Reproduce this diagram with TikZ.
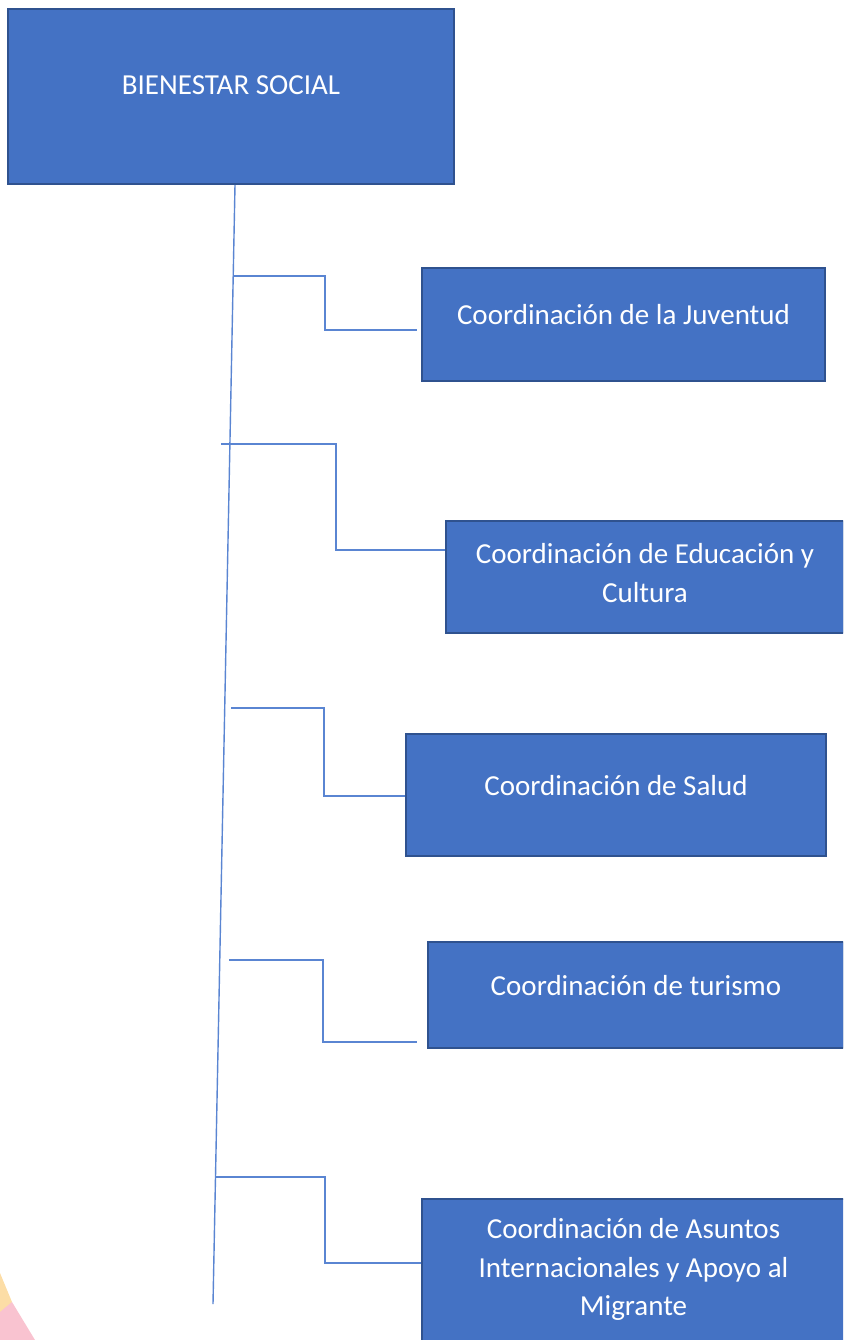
\documentclass[tikz,border=0pt]{standalone}
\usepackage{fontspec}
\setmainfont{Carlito}
\usetikzlibrary{calc}
\definecolor{boxblue}{HTML}{4472C4}
\definecolor{boxedge}{HTML}{2F528F}
\definecolor{lineblue}{HTML}{5A85D2}
\definecolor{pastelsun}{HTML}{FCDDA6}
\definecolor{pastelrose}{HTML}{F9C3D0}
\tikzset{
	orgnode/.style = {
		rectangle,
		align=center,
		inner sep=0pt,
		text=white,
		font=\fontsize{29}{38.5}\selectfont,
		fill=boxblue,
		draw=boxedge,
		line width=2pt
	},
	orgnode_top/.style = {
		orgnode,
		minimum width=446pt,
		minimum height=175pt,
		text depth=22pt
	},
	orgnode_sub/.style = {
		orgnode,
		text depth=20pt
	},
	link/.style = {
		draw=lineblue,
		line width=1.4pt
	}
}
\begin{document}
\begin{tikzpicture}[x=1pt,y=-1pt]
\useasboundingbox (0,0) rectangle (843,1340);
\clip (0,0) rectangle (843,1340);
\fill[pastelsun] (0,1273) -- (12,1302) -- (0,1325) -- cycle;
\fill[pastelrose] (0,1312) -- (12,1302) -- (35,1340) -- (0,1340) -- cycle;
\node [orgnode_top] (bs) at (231,96.5) {BIENESTAR SOCIAL};
\node [orgnode_sub, minimum width=403pt, minimum height=113pt] (juv) at (623.5,324.5) {Coordinación de la Juventud};
\node [orgnode_sub, minimum width=398pt, minimum height=112pt, text depth=8pt] (edu) at (645,577) {Coordinación de Educación y\\Cultura};
\node [orgnode_sub, minimum width=420pt, minimum height=122pt] (sal) at (616,795) {Coordinación de Salud};
\node [orgnode_sub, minimum width=416pt, minimum height=106pt] (tur) at (636,995) {Coordinación de turismo};
\node [orgnode_sub, minimum width=423pt, minimum height=156pt] (mig) at (633.5,1277) {Coordinación de Asuntos\\Internacionales y Apoyo al\\Migrante};
\coordinate (ttop) at ($(bs.south)+(4,0)$);
\coordinate (tbot) at (213,1304);
\draw[link] (ttop) -- (tbot);
\coordinate (j1) at (233,276);
\coordinate (j2) at (221,444);
\coordinate (j3) at (231,708);
\coordinate (j4) at (229,960);
\coordinate (j5) at (215,1177);
\coordinate (k1) at (417,330);
\coordinate (k4) at (417,1042);
\draw[link] (j1) -| ++(92,54) -- (k1);
\draw[link] (j2) -| ++(115,106) -- (edu.west |- 446,550);
\draw[link] (j3) -| ++(93,88) -- (sal.west |- 406,796);
\draw[link] (j4) -| ++(94,82) -- (k4);
\draw[link] (j5) -| ++(110,86) -- (mig.west |- 422,1263);
\end{tikzpicture}
\end{document}
